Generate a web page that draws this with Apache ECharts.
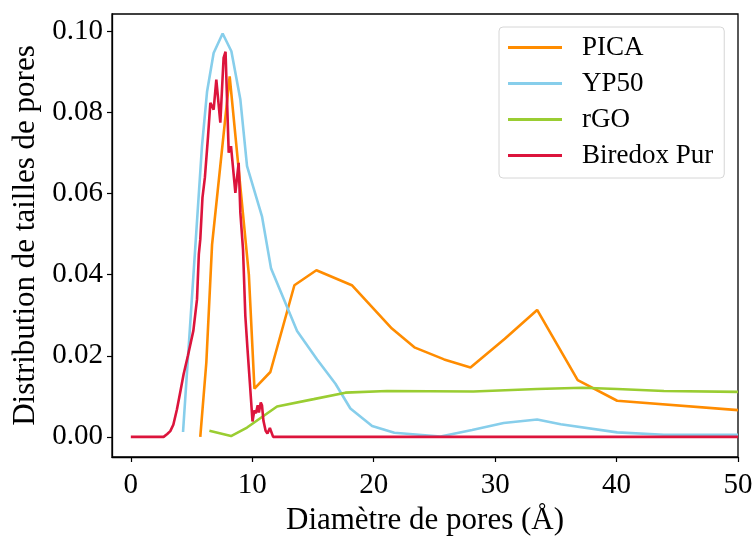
<!DOCTYPE html>
<html>
<head>
<meta charset="utf-8">
<script src="https://cdn.jsdelivr.net/npm/echarts@6/dist/echarts.min.js"></script>
<style>
  html, body { margin: 0; padding: 0; background: #fff; }
  #chart { width: 753px; height: 537px; }
</style>
</head>
<body>
<div id="chart"></div>
<script>
// pore size (Å), distribution
const picaData = [
  [5.72, 0], [6.22, 0.0184], [6.69, 0.0474], [8.14, 0.0889], [9.72, 0.0400],
  [10.18, 0.0119], [11.49, 0.0160], [13.47, 0.0374], [15.28, 0.0411], [18.2, 0.0374],
  [21.5, 0.0267], [23.4, 0.0220], [25.8, 0.0191], [27.97, 0.0171], [30.8, 0.0242],
  [33.46, 0.0313], [36.8, 0.0140], [40.05, 0.0089], [50, 0.0066]
];
const yp50Data = [
  [4.30, 0.0012], [5.86, 0.0717], [6.28, 0.0852], [6.82, 0.0947], [7.56, 0.0995],
  [8.28, 0.0951], [9.02, 0.0832], [9.57, 0.0668], [10.8, 0.0544], [11.55, 0.0415],
  [13.69, 0.0261], [15.34, 0.0191], [16.85, 0.0131], [18.08, 0.0070], [19.87, 0.0027],
  [21.7, 0.0010], [25.5, 0.0001], [28.1, 0.0017], [30.7, 0.0034], [33.46, 0.0043],
  [35.4, 0.0031], [40.05, 0.0011], [43.9, 0.0005], [50, 0.0005]
];
const rgoData = [
  [6.47, 0.0015], [8.25, 0.0002], [9.57, 0.0023], [12.04, 0.0075], [15.06, 0.0093],
  [17.67, 0.0109], [21.1, 0.0113], [28.2, 0.0112], [33.46, 0.0118], [37.2, 0.0121],
  [40.05, 0.0118], [43.9, 0.0113], [50, 0.0111]
];
const biredoxData = [
  [0, 0], [2.7, 0], [3.0, 0.0007], [3.25, 0.0014], [3.5, 0.0030], [3.8, 0.0068],
  [4.1, 0.0115], [4.35, 0.0155], [4.7, 0.0200], [5.15, 0.0262], [5.45, 0.0339],
  [5.6, 0.0450], [5.72, 0.0487], [5.9, 0.0590], [6.1, 0.0640], [6.36, 0.0742],
  [6.55, 0.0824], [6.82, 0.0807], [7.04, 0.0881], [7.37, 0.0775], [7.64, 0.0935],
  [7.8, 0.0950], [8.06, 0.0701], [8.25, 0.0717], [8.33, 0.0717], [8.61, 0.0602],
  [8.88, 0.0676], [9.02, 0.0553], [9.24, 0.0462], [9.43, 0.0298], [9.6, 0.0220],
  [9.8, 0.0134], [10.02, 0.0038], [10.17, 0.0065], [10.3, 0.0058], [10.45, 0.0078],
  [10.55, 0.0060], [10.7, 0.0085], [10.8, 0.0078], [10.92, 0.0040], [11.1, 0.0015],
  [11.25, 0.0008], [11.45, 0.0022], [11.6, 0.0020], [11.72, 0], [50, 0]
];
const seriesNames = ['PICA', 'YP50', 'rGO', 'Biredox Pur'];
const seriesColors = ['#ff8c00', '#87ceeb', '#9acd32', '#dc143c'];
const xTicks = [0, 10, 20, 30, 40, 50];
const yTicks = [0, 0.02, 0.04, 0.06, 0.08, 0.10];

const font = '"Liberation Serif", "DejaVu Serif", serif';
const chart = echarts.init(document.getElementById('chart'));

const allData = [picaData, yp50Data, rgoData, biredoxData];

chart.setOption({
  animation: false,
  grid: {
    left: 112, top: 14, width: 626, height: 443,
    outerBoundsMode: 'none',
    show: true, borderColor: '#000', borderWidth: 1.3, backgroundColor: 'transparent'
  },
  legend: {
    orient: 'vertical',
    left: 499, top: 27,
    padding: [6, 11, 8, 9],
    itemGap: 7,
    itemWidth: 54,
    itemHeight: 3,
    icon: 'rect',
    borderColor: '#d6d6d6',
    borderWidth: 1,
    borderRadius: 4,
    backgroundColor: '#fff',
    textStyle: { fontFamily: font, fontSize: 27, color: '#000', lineHeight: 29, padding: [0, 0, 0, 15] },
    data: seriesNames
  },
  xAxis: {
    type: 'value',
    min: -1.55, max: 50,
    name: 'Diamètre de pores (Å)',
    nameLocation: 'middle',
    nameGap: 47,
    nameTextStyle: { fontFamily: font, fontSize: 31, color: '#000' },
    splitLine: { show: false },
    axisLine: { onZero: false, lineStyle: { color: '#000', width: 1.3 } },
    axisTick: { show: true, length: 5, inside: false, customValues: xTicks, lineStyle: { color: '#000', width: 1.2 } },
    axisLabel: { customValues: xTicks, margin: 14, fontFamily: font, fontSize: 29, color: '#000' }
  },
  yAxis: {
    type: 'value',
    min: -0.00497, max: 0.1043,
    name: 'Distribution de tailles de pores',
    nameLocation: 'middle',
    nameGap: 66,
    nameTextStyle: { fontFamily: font, fontSize: 31, color: '#000' },
    splitLine: { show: false },
    axisLine: { onZero: false, lineStyle: { color: '#000', width: 1.3 } },
    axisTick: { show: true, length: 5, inside: false, customValues: yTicks, lineStyle: { color: '#000', width: 1.2 } },
    axisLabel: {
      customValues: yTicks, margin: 9, fontFamily: font, fontSize: 29, color: '#000',
      formatter: v => v.toFixed(2)
    }
  },
  series: seriesNames.map((name, i) => ({
    name,
    type: 'line',
    data: allData[i],
    symbol: 'none',
    color: seriesColors[i],
    lineStyle: { width: 2.6, color: seriesColors[i] },
    z: 2 + i
  }))
});
</script>
</body>
</html>
